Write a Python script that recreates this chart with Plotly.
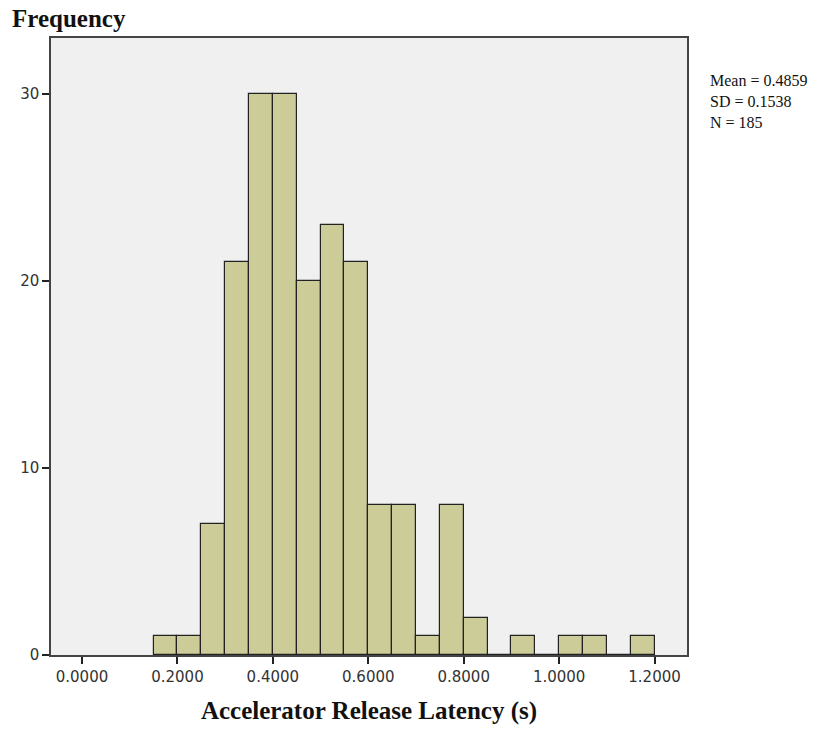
import plotly.graph_objects as go

bin_starts = [0.15, 0.20, 0.25, 0.30, 0.35, 0.40, 0.45, 0.50, 0.55, 0.60, 0.65,
              0.70, 0.75, 0.80, 0.85, 0.90, 0.95, 1.00, 1.05, 1.10, 1.15]
counts = [1, 1, 7, 21, 30, 30, 20, 23, 21, 8, 8,
          1, 8, 2, 0, 1, 0, 1, 1, 0, 1]
bin_width = 0.05
x_tick_vals = [0.0, 0.2, 0.4, 0.6, 0.8, 1.0, 1.2]
x_tick_text = ["0.0000", "0.2000", "0.4000", "0.6000", "0.8000", "1.0000", "1.2000"]
y_tick_vals = [0, 10, 20, 30]
stats_text = ["Mean = 0.4859", "SD = 0.1538", "N = 185"]

centers = [b + bin_width / 2 for b in bin_starts]

fig = go.Figure()
fig.add_trace(go.Bar(
    x=centers, y=counts, width=[bin_width] * len(counts),
    marker=dict(color="#cccc99", line=dict(color="#222222", width=1.2)),
    showlegend=False, hoverinfo="x+y",
))

serif = "Liberation Serif, Times New Roman, serif"
sans = "DejaVu Sans, Tahoma, sans-serif"

fig.update_layout(
    width=839, height=732,
    margin=dict(l=51, r=152, t=38, b=75),
    paper_bgcolor="white",
    plot_bgcolor="#f0f0f0",
    bargap=0,
    xaxis=dict(
        range=[-0.065, 1.268],
        tickvals=x_tick_vals, ticktext=x_tick_text,
        ticks="outside", ticklen=7, tickwidth=1.5, tickcolor="#222222",
        showline=True, linecolor="#444444", linewidth=1.5, mirror=True,
        showgrid=False, zeroline=False,
        tickfont=dict(family=sans, size=15, color="#333333"),
        title=dict(text="<b>Accelerator Release Latency (s)</b>",
                   font=dict(family=serif, size=25, color="#111111"),
                   standoff=17),
    ),
    yaxis=dict(
        range=[0, 33],
        tickvals=y_tick_vals,
        ticks="outside", ticklen=7, tickwidth=1.5, tickcolor="#222222",
        showline=True, linecolor="#444444", linewidth=1.5, mirror=True,
        showgrid=False, zeroline=False,
        tickfont=dict(family=sans, size=15, color="#333333"),
    ),
)

fig.add_annotation(
    text="<b>Frequency</b>", xref="paper", yref="paper",
    x=-41 / 636, y=1 + 20 / 619, xanchor="left", yanchor="middle",
    showarrow=False, font=dict(family=serif, size=25, color="#111111"),
)

fig.add_annotation(
    text="<br>".join(stats_text), xref="paper", yref="paper",
    x=1 + 21 / 636, y=1 - 32 / 619, xanchor="left", yanchor="top",
    align="left", showarrow=False,
    font=dict(family=serif, size=16, color="#111111"),
)

fig.write_html("out.html")
